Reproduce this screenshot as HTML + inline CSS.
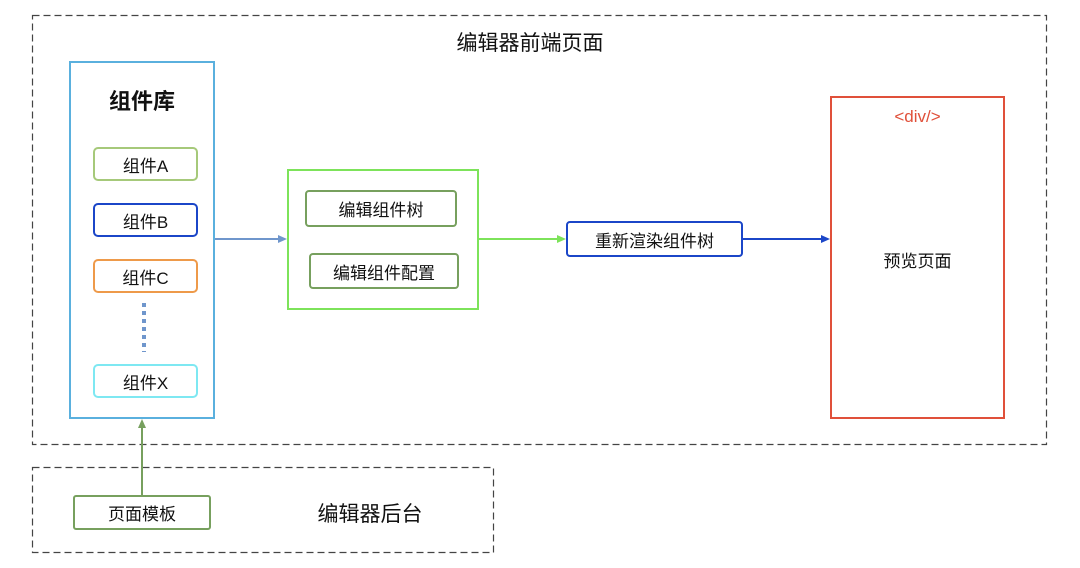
<!DOCTYPE html>
<html><head><meta charset="utf-8"><style>
body{margin:0;width:1080px;height:568px;background:#fff;position:relative;overflow:hidden;font-family:"Liberation Sans","Noto Sans CJK SC",sans-serif;color:#111}
.a{position:absolute;box-sizing:border-box}
.t{display:flex;align-items:center;justify-content:center;font-size:17px}
</style></head><body>
<div class="a t" style="left:400px;top:24px;width:260px;height:36px;font-size:21px">编辑器前端页面</div>
<div class="a" style="left:69px;top:61px;width:146px;height:358px;border:2px solid #5ab0de"></div>
<div class="a t" style="left:69px;top:82px;width:146px;height:36px;font-size:22px;font-weight:bold">组件库</div>
<div class="a t" style="left:93px;top:147px;width:105px;height:34px;border:2px solid #a6c97a;border-radius:5px">组件A</div>
<div class="a t" style="left:93px;top:203px;width:105px;height:34px;border:2px solid #1b46c8;border-radius:5px">组件B</div>
<div class="a t" style="left:93px;top:259px;width:105px;height:34px;border:2px solid #ee9a4a;border-radius:5px">组件C</div>
<div class="a t" style="left:93px;top:364px;width:105px;height:34px;border:2px solid #7ee8f2;border-radius:5px">组件X</div>
<div class="a" style="left:287px;top:169px;width:192px;height:141px;border:2px solid #7de35a"></div>
<div class="a t" style="left:305px;top:190px;width:152px;height:37px;border:2px solid #77a05e;border-radius:4px">编辑组件树</div>
<div class="a t" style="left:309px;top:253px;width:150px;height:36px;border:2px solid #77a05e;border-radius:4px">编辑组件配置</div>
<div class="a t" style="left:566px;top:221px;width:177px;height:36px;border:2px solid #1b46c8;border-radius:4px">重新渲染组件树</div>
<div class="a" style="left:830px;top:96px;width:175px;height:323px;border:2px solid #e0503a"></div>
<div class="a t" style="left:830px;top:102px;width:175px;height:30px;color:#e0503a">&lt;div/&gt;</div>
<div class="a t" style="left:830px;top:242px;width:175px;height:34px">预览页面</div>
<div class="a t" style="left:73px;top:495px;width:138px;height:35px;border:2px solid #77a05e;border-radius:3px">页面模板</div>
<div class="a t" style="left:290px;top:495px;width:160px;height:35px;font-size:21px">编辑器后台</div>
<svg class="a" style="left:0;top:0" width="1080" height="568">
<rect x="32.5" y="15.5" width="1014" height="429" fill="none" stroke="#444" stroke-width="1.2" stroke-dasharray="7,4"/>
<rect x="32.5" y="467.5" width="461" height="85" fill="none" stroke="#444" stroke-width="1.2" stroke-dasharray="7,4"/>
<line x1="144" y1="303" x2="144" y2="352" stroke="#6f96cc" stroke-width="4" stroke-dasharray="4,4"/>
<line x1="215" y1="239" x2="280" y2="239" stroke="#6f96cc" stroke-width="2"/><polygon points="287,239 278,235 278,243" fill="#6f96cc"/>
<line x1="479" y1="239" x2="558" y2="239" stroke="#7de35a" stroke-width="2"/><polygon points="566,239 557,235 557,243" fill="#7de35a"/>
<line x1="743" y1="239" x2="822" y2="239" stroke="#1b46c8" stroke-width="2"/><polygon points="830,239 821,235 821,243" fill="#1b46c8"/>
<line x1="142" y1="495" x2="142" y2="426" stroke="#77a05e" stroke-width="2"/><polygon points="142,419 138,428 146,428" fill="#77a05e"/>
</svg>
</body></html>
